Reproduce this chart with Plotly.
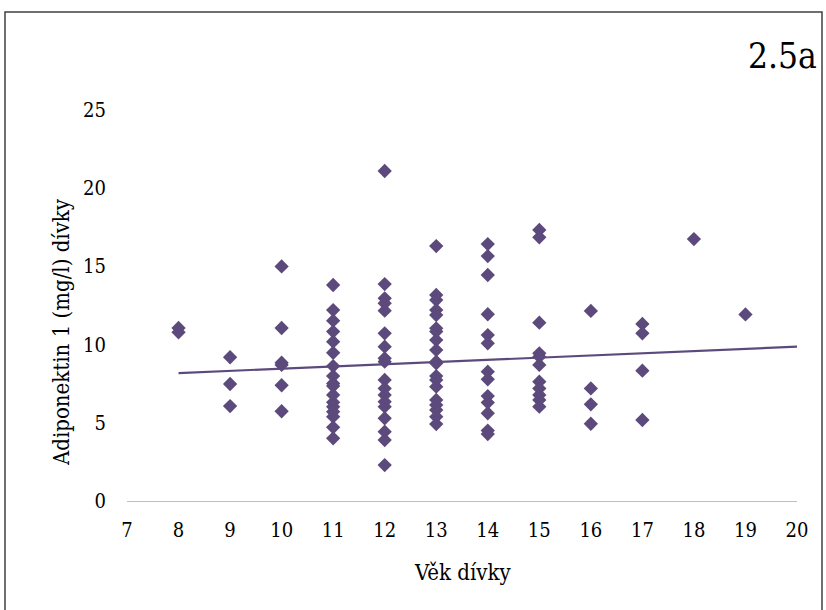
import plotly.graph_objects as go

ages_8 = [8, 8]
adipo_8 = [11.06, 10.79]
ages_9 = [9, 9, 9]
adipo_9 = [9.19, 7.48, 6.07]
ages_10 = [10] * 6
adipo_10 = [15.0, 11.06, 8.84, 8.7, 7.4, 5.74]
ages_11 = [11] * 17
adipo_11 = [13.81, 12.21, 11.53, 10.83, 10.19, 9.48, 8.63, 7.99, 7.52, 7.35,
            6.78, 6.31, 6.03, 5.71, 5.39, 4.71, 4.01]
ages_12 = [12] * 18
adipo_12 = [21.1, 13.87, 12.96, 12.64, 12.17, 10.72, 9.87, 9.12, 8.91, 7.74,
            7.2, 6.78, 6.35, 6.03, 5.29, 4.43, 3.9, 2.3]
ages_13 = [13] * 19
adipo_13 = [16.3, 13.17, 12.85, 12.21, 11.89, 11.04, 10.83, 10.29, 9.65, 8.91,
            8.8, 7.99, 7.74, 7.31, 6.46, 6.14, 5.82, 5.39, 4.92]
ages_14 = [14] * 13
adipo_14 = [16.43, 15.66, 14.45, 11.94, 10.61, 10.08, 8.27, 7.78, 6.71, 6.29,
            5.61, 4.5, 4.28]
ages_15 = [15] * 11
adipo_15 = [17.33, 16.86, 11.4, 9.44, 9.23, 8.7, 7.63, 7.2, 6.78, 6.46, 6.03]
ages_16 = [16] * 4
adipo_16 = [12.15, 7.2, 6.18, 4.94]
ages_17 = [17] * 4
adipo_17 = [11.32, 10.72, 8.33, 5.18]
ages_18 = [18]
adipo_18 = [16.75]
ages_19 = [19]
adipo_19 = [11.93]

# linear trendline as drawn in the reference
trend_x = [8, 20]
trend_y = [8.18, 9.87]

x_ticks = list(range(7, 21))
y_ticks = [0, 5, 10, 15, 20, 25]

ages = (ages_8 + ages_9 + ages_10 + ages_11 + ages_12 + ages_13 + ages_14 +
        ages_15 + ages_16 + ages_17 + ages_18 + ages_19)
adipo = (adipo_8 + adipo_9 + adipo_10 + adipo_11 + adipo_12 + adipo_13 +
         adipo_14 + adipo_15 + adipo_16 + adipo_17 + adipo_18 + adipo_19)

purple = "#5D4A7C"
font_family = "DejaVu Serif Condensed, Liberation Serif, serif"

fig = go.Figure()
fig.add_trace(go.Scatter(
    x=ages, y=adipo, mode="markers",
    marker=dict(symbol="diamond", size=11, color=purple),
    showlegend=False, hoverinfo="x+y"))
fig.add_trace(go.Scatter(
    x=trend_x, y=trend_y, mode="lines",
    line=dict(color=purple, width=2.2),
    showlegend=False, hoverinfo="skip"))

L, R, T, B = 127, 29, 110, 109
W, H = 826, 610
pw, ph = W - L - R, H - T - B

def px_to_paper_x(px):
    return (px - L) / pw

def px_to_paper_y(py):
    return (H - B - py) / ph

fig.update_layout(
    width=W, height=H,
    margin=dict(l=L, r=R, t=T, b=B),
    paper_bgcolor="white", plot_bgcolor="white",
    font=dict(family=font_family, size=20, color="#000000"),
    xaxis=dict(range=[7, 20], tickvals=x_ticks, showgrid=False, zeroline=False,
               showline=True, linecolor="#BFBFBF", linewidth=1,
               ticks="outside", ticklen=11, tickcolor="rgba(0,0,0,0)",
               tickfont=dict(size=20)),
    yaxis=dict(range=[0, 25], tickvals=y_ticks, showgrid=False, zeroline=False,
               showline=False, ticks="outside", ticklen=16,
               tickcolor="rgba(0,0,0,0)", tickfont=dict(size=20)),
    shapes=[dict(type="rect", xref="paper", yref="paper",
                 x0=px_to_paper_x(5), x1=px_to_paper_x(822),
                 y0=px_to_paper_y(640), y1=px_to_paper_y(12),
                 line=dict(color="#404040", width=1.5), layer="below")],
    annotations=[
        dict(text="2.5a", xref="paper", yref="paper",
             x=px_to_paper_x(819), y=px_to_paper_y(56),
             xanchor="right", yanchor="middle", showarrow=False,
             font=dict(size=35, family=font_family)),
        dict(text="Věk dívky", xref="paper", yref="paper",
             x=px_to_paper_x(462), y=px_to_paper_y(572),
             xanchor="center", yanchor="middle", showarrow=False,
             font=dict(size=22, family=font_family)),
        dict(text="Adiponektin 1 (mg/l) dívky", xref="paper", yref="paper",
             x=px_to_paper_x(61), y=px_to_paper_y(332),
             xanchor="center", yanchor="middle", showarrow=False, textangle=-90,
             font=dict(size=22, family=font_family)),
    ],
)

fig.write_html("out.html")
